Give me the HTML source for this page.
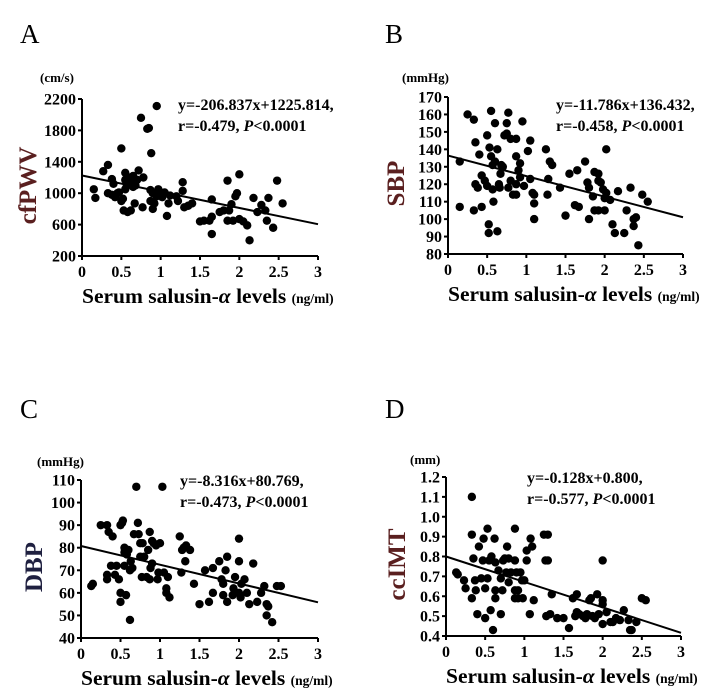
<!DOCTYPE html>
<html><head><meta charset="utf-8"><style>
body{margin:0;background:#fff;}
svg{display:block;font-family:"Liberation Serif",serif;}
.tk{font-size:16px;font-weight:bold;fill:#000;}
.ann{font-size:16px;font-weight:bold;fill:#000;}
.unit{font-size:13px;font-weight:bold;}
.lt{font-size:27px;}
.xt{font-size:21.5px;font-weight:bold;}
</style></head><body>
<svg id="fig" width="711" height="699" viewBox="0 0 711 699" xmlns="http://www.w3.org/2000/svg"></svg>
<script>
const xTicks=[0,0.5,1,1.5,2,2.5,3];
const xTickLabels=["0","0.5","1","1.5","2","2.5","3"];
const yTicksA=[200,600,1000,1400,1800,2200];
const yTicksB=[80,90,100,110,120,130,140,150,160,170];
const yTicksC=[40,50,60,70,80,90,100,110];
const yTicksD=[0.4,0.5,0.6,0.7,0.8,0.9,1.0,1.1,1.2];
const coefA=[-206.837,1225.814];
const coefB=[-11.786,136.432];
const coefC=[-8.316,80.769];
const coefD=[-0.128,0.800];
const ptsA=[[0.15,1050],[0.17,940],[0.27,1280],[0.33,1360],[0.33,1000],[0.38,980],[0.38,1180],[0.4,1120],[0.42,950],[0.45,1000],[0.47,1010],[0.5,1570],[0.5,900],[0.52,930],[0.53,780],[0.55,1260],[0.55,1050],[0.55,1170],[0.57,1100],[0.58,760],[0.6,1200],[0.62,780],[0.63,1150],[0.65,1080],[0.65,1220],[0.67,870],[0.68,1100],[0.7,1170],[0.72,1290],[0.75,1960],[0.77,820],[0.78,1200],[0.83,1820],[0.85,1830],[0.88,1510],[0.87,1040],[0.87,900],[0.9,800],[0.9,1000],[0.92,870],[0.95,2110],[0.95,960],[0.97,1050],[1.0,1010],[1.02,950],[1.05,1010],[1.08,710],[1.1,870],[1.12,970],[1.2,960],[1.22,900],[1.28,1140],[1.28,1030],[1.3,820],[1.35,840],[1.4,870],[1.5,640],[1.55,650],[1.62,650],[1.65,920],[1.65,480],[1.65,700],[1.75,760],[1.8,780],[1.85,1160],[1.85,650],[1.87,780],[1.9,860],[1.92,650],[1.95,960],[1.97,1000],[2.0,1240],[2.0,670],[2.05,640],[2.1,590],[2.13,400],[2.18,940],[2.23,760],[2.28,850],[2.33,780],[2.35,650],[2.37,940],[2.43,560],[2.48,1160],[2.55,870]];
const ptsB=[[0.15,133],[0.15,107],[0.25,160],[0.33,157],[0.33,105],[0.35,120],[0.35,144],[0.38,118],[0.4,137],[0.43,125],[0.43,107],[0.47,122],[0.5,148],[0.5,119],[0.52,97],[0.52,92],[0.55,162],[0.53,141],[0.55,136],[0.57,131],[0.57,117],[0.58,110],[0.6,155],[0.6,133],[0.63,93],[0.63,140],[0.65,120],[0.66,118],[0.67,126],[0.68,131],[0.7,130],[0.72,148],[0.75,155],[0.75,149],[0.77,161],[0.77,118],[0.8,146],[0.8,122],[0.83,114],[0.87,114],[0.87,146],[0.87,136],[0.87,120],[0.9,128],[0.92,132],[0.92,124],[0.95,156],[0.97,119],[1.02,139],[1.05,145],[1.05,123],[1.08,115],[1.1,114],[1.1,109],[1.1,100],[1.25,140],[1.27,114],[1.28,123],[1.3,133],[1.33,131],[1.43,118],[1.5,102],[1.55,126],[1.62,108],[1.65,128],[1.67,107],[1.75,133],[1.78,121],[1.8,118],[1.8,100],[1.85,113],[1.87,105],[1.87,127],[1.92,126],[1.92,105],[1.92,122],[1.95,121],[1.98,117],[2.0,112],[2.0,105],[2.02,140],[2.02,115],[2.07,111],[2.1,97],[2.13,92],[2.17,116],[2.25,92],[2.28,105],[2.33,118],[2.37,100],[2.37,96],[2.4,101],[2.43,85],[2.48,114],[2.55,110]];
const ptsC=[[0.13,63],[0.15,64],[0.25,90],[0.33,90],[0.35,87],[0.33,68],[0.33,66],[0.38,72],[0.4,85],[0.43,68],[0.45,72],[0.48,66],[0.5,90],[0.5,60],[0.5,56],[0.52,91],[0.53,92],[0.55,80],[0.55,78],[0.55,72],[0.57,59],[0.58,77],[0.6,79],[0.62,48],[0.62,70],[0.63,74],[0.65,71],[0.67,86],[0.7,107],[0.72,91],[0.73,86],[0.75,82],[0.75,76],[0.77,67],[0.78,82],[0.8,76],[0.83,67],[0.85,79],[0.87,87],[0.87,66],[0.88,71],[0.9,83],[0.9,73],[0.92,82],[0.95,81],[0.97,66],[0.98,69],[1.0,82],[1.03,107],[1.05,69],[1.08,62],[1.1,67],[1.08,60],[1.12,58],[1.25,85],[1.27,69],[1.28,79],[1.3,80],[1.33,81],[1.32,74],[1.38,79],[1.43,64],[1.5,55],[1.57,70],[1.62,56],[1.67,71],[1.67,60],[1.75,74],[1.78,66],[1.8,59],[1.8,64],[1.83,70],[1.85,76],[1.85,56],[1.92,59],[1.93,62],[1.95,67],[2.0,74],[2.0,84],[2.0,60],[2.02,58],[2.03,64],[2.07,66],[2.1,60],[2.13,55],[2.18,73],[2.23,56],[2.28,60],[2.32,63],[2.35,55],[2.35,50],[2.37,54],[2.42,47],[2.48,63],[2.53,63]];
const ptsD=[[0.13,0.72],[0.15,0.71],[0.23,0.68],[0.25,0.64],[0.33,1.1],[0.33,0.91],[0.33,0.59],[0.35,0.79],[0.37,0.68],[0.38,0.63],[0.4,0.51],[0.42,0.85],[0.45,0.69],[0.47,0.78],[0.48,0.89],[0.5,0.64],[0.5,0.49],[0.53,0.94],[0.53,0.69],[0.55,0.78],[0.57,0.53],[0.58,0.8],[0.6,0.43],[0.62,0.89],[0.63,0.77],[0.63,0.63],[0.63,0.59],[0.67,0.73],[0.7,0.69],[0.7,0.51],[0.72,0.63],[0.73,0.78],[0.75,0.79],[0.77,0.72],[0.78,0.85],[0.8,0.79],[0.8,0.67],[0.83,0.72],[0.88,0.94],[0.88,0.78],[0.88,0.63],[0.88,0.59],[0.9,0.72],[0.92,0.63],[0.92,0.59],[0.95,0.72],[0.97,0.68],[0.98,0.59],[1.0,0.68],[1.03,0.83],[1.03,0.78],[1.07,0.51],[1.08,0.89],[1.1,0.85],[1.12,0.58],[1.25,0.91],[1.27,0.78],[1.28,0.5],[1.3,0.91],[1.3,0.78],[1.33,0.51],[1.35,0.61],[1.42,0.49],[1.5,0.49],[1.57,0.44],[1.62,0.59],[1.65,0.5],[1.67,0.61],[1.67,0.52],[1.7,0.51],[1.75,0.5],[1.78,0.49],[1.8,0.51],[1.83,0.58],[1.85,0.59],[1.87,0.5],[1.9,0.49],[1.93,0.61],[1.95,0.51],[2.0,0.78],[2.0,0.58],[2.0,0.56],[2.0,0.46],[2.05,0.52],[2.1,0.47],[2.13,0.47],[2.17,0.49],[2.22,0.48],[2.27,0.53],[2.33,0.48],[2.35,0.43],[2.37,0.43],[2.43,0.47],[2.5,0.59],[2.55,0.58]];

const NS="http://www.w3.org/2000/svg";
const svg=document.getElementById('fig');
function mk(tag,attrs,parent,text){const e=document.createElementNS(NS,tag);for(const k in attrs)e.setAttribute(k,attrs[k]);if(text!==undefined)e.textContent=text;parent.appendChild(e);return e;}

const panels=[
 {id:'a',letter:'A',lx:20,ly:43,x0:82,x1:318,yb:256,yt:99,ticks:yTicksA,fmt:v=>String(v),pts:ptsA,coef:coefA,unit:'(cm/s)',ux:40,uy:82,title:'cfPWV',tcol:'#5a1f1f',tx:36,ann1:'y=-206.837x+1225.814,',ann2:'r=-0.479, ',ax:178,ay:110},
 {id:'b',letter:'B',lx:385,ly:43,x0:448,x1:683,yb:254,yt:97,ticks:yTicksB,fmt:v=>String(v),pts:ptsB,coef:coefB,unit:'(mmHg)',ux:402,uy:82,title:'SBP',tcol:'#5a1f1f',tx:404,ann1:'y=-11.786x+136.432,',ann2:'r=-0.458, ',ax:556,ay:110},
 {id:'c',letter:'C',lx:20,ly:418,x0:81,x1:318,yb:638,yt:480,ticks:yTicksC,fmt:v=>String(v),pts:ptsC,coef:coefC,unit:'(mmHg)',ux:37,uy:466,title:'DBP',tcol:'#1f2040',tx:42,ann1:'y=-8.316x+80.769,',ann2:'r=-0.473, ',ax:180,ay:486},
 {id:'d',letter:'D',lx:385,ly:418,x0:446,x1:681,yb:636,yt:477,ticks:yTicksD,fmt:v=>v.toFixed(1),pts:ptsD,coef:coefD,unit:'(mm)',ux:410,uy:464,title:'ccIMT',tcol:'#5a1f1f',tx:405,ann1:'y=-0.128x+0.800,',ann2:'r=-0.577, ',ax:527,ay:483}
];

panels.forEach(p=>{
 const g=mk('g',{},svg);
 
 
 const ymin=p.ticks[0],ymax=p.ticks[p.ticks.length-1];
 const X=v=>p.x0+(v-0)/3*(p.x1-p.x0);
 const Y=v=>p.yb-(v-ymin)/(ymax-ymin)*(p.yb-p.yt);
 const lt=mk('text',{x:p.lx,y:p.ly,class:'lt'},g,p.letter);
 
 
 const ax=mk('g',{stroke:'#000','stroke-width':2},g);
 
 
 mk('line',{x1:p.x0,y1:p.yb,x2:p.x1,y2:p.yb},ax);
 mk('line',{x1:p.x0,y1:p.yb,x2:p.x0,y2:p.yt},ax);
 p.ticks.forEach(v=>{mk('line',{x1:p.x0-4,y1:Y(v),x2:p.x0,y2:Y(v)},ax);
  const t=mk('text',{x:p.x0-6,y:Y(v)+5.5,'text-anchor':'end',class:'tk'},g,p.fmt(v));
  
  });
 xTicks.forEach((v,i)=>{mk('line',{x1:X(v),y1:p.yb,x2:X(v),y2:p.yb+4},ax);
  const t=mk('text',{x:X(v),y:p.yb+21,'text-anchor':'middle',class:'tk'},g,xTickLabels[i]);
  
  });
 const u=mk('text',{x:p.ux,y:p.uy,class:'unit'},g,p.unit);
 
 
 const cy=(p.yb+p.yt)/2+8;
 const yt=mk('text',{x:cy,y:p.tx,transform:`rotate(-90) translate(${-2*cy} 0)`,'text-anchor':'middle','font-size':25,'font-weight':'bold',fill:p.tcol},g,p.title);
 
 
 const xt=mk('text',{x:p.x0,y:p.yb+47,class:'xt'},g);
 
 
 mk('tspan',{},xt,'Serum  salusin-');
 mk('tspan',{'font-style':'italic'},xt,'α');
 mk('tspan',{},xt,'  levels ');
 mk('tspan',{'font-size':13.5},xt,'(ng/ml)');
 const a1=mk('text',{x:p.ax,y:p.ay,class:'ann'},g,p.ann1);
 
 
 const a2=mk('text',{x:p.ax,y:p.ay+21,class:'ann'},g);
 
 
 mk('tspan',{},a2,p.ann2);
 mk('tspan',{'font-style':'italic'},a2,'P');
 mk('tspan',{},a2,'<0.0001');
 const pg=mk('g',{fill:'#000'},g);
 
 
 p.pts.forEach(d=>{const c=mk('circle',{cx:X(d[0]),cy:Y(d[1]),r:4.2},pg);
  
  });
 const rl=mk('line',{x1:X(0),y1:Y(p.coef[1]),x2:X(3),y2:Y(p.coef[0]*3+p.coef[1]),stroke:'#000','stroke-width':2},g);
 
 
});
</script>
</body></html>
